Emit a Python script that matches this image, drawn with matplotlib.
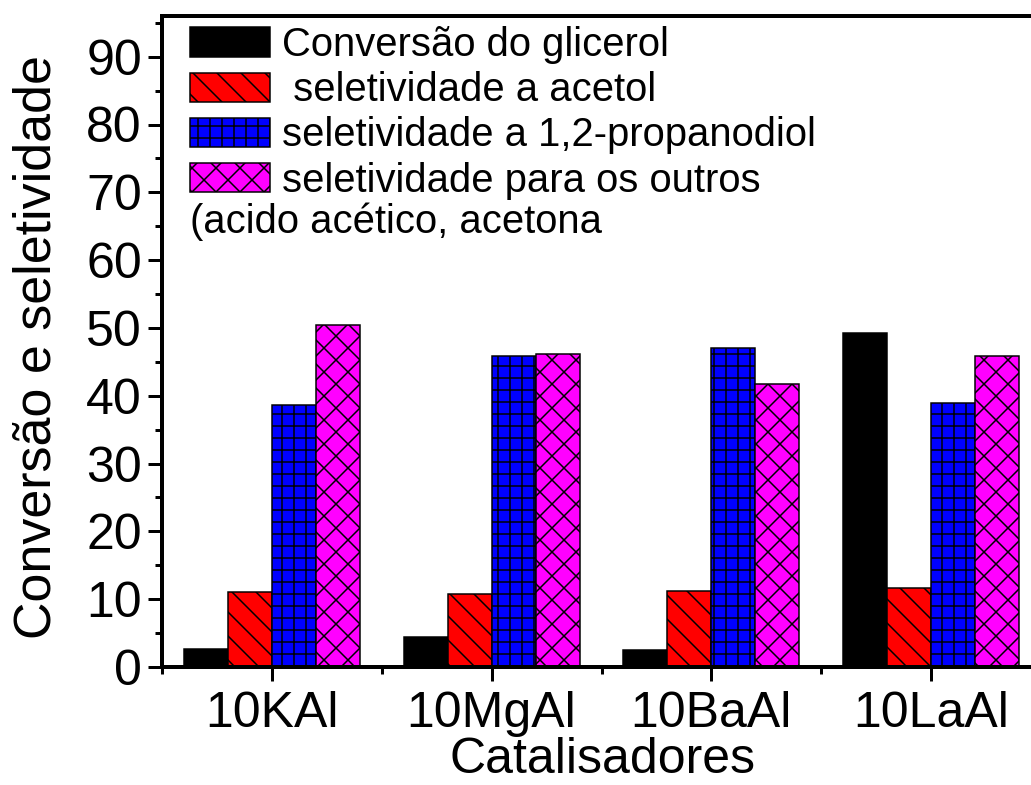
import numpy as np
import matplotlib
matplotlib.use("Agg")
import matplotlib.pyplot as plt
from matplotlib.ticker import MultipleLocator, FixedLocator

plt.rcParams['font.family'] = ['Liberation Sans', 'DejaVu Sans']
plt.rcParams['hatch.linewidth'] = 1.5

# data
catalisadores = ["10KAl", "10MgAl", "10BaAl", "10LaAl"]
conversao = [2.6, 4.4, 2.5, 49.3]
sel_acetol = [11.0, 10.8, 11.2, 11.6]
sel_propanodiol = [38.7, 45.9, 47.0, 38.9]
sel_outros = [50.4, 46.2, 41.8, 45.8]

series = [
    (conversao, "Conversão do glicerol", "black", None),
    (sel_acetol, " seletividade a acetol", "red", "\\"),
    (sel_propanodiol, "seletividade a 1,2-propanodiol", "blue", "+"),
    (sel_outros, "seletividade para os outros", "magenta", "x"),
]

W, H = 1031, 785
fig = plt.figure(figsize=(W / 72, H / 72), dpi=72)
# axes runs slightly past the right edge, like the cropped original
ax = fig.add_axes([162 / W, 1 - 667 / H, 879 / W, 651 / H])

x = np.arange(1, len(catalisadores) + 1)
bw = 0.2
for i, (vals, lab, col, hatch) in enumerate(series):
    ax.bar(x + (i - 1.5) * bw, vals, bw, color=col, edgecolor="black",
           linewidth=1.5, hatch=hatch, label=lab)

ax.set_xlim(0.5, 4.5)
ax.set_ylim(0, 96)
ax.set_xticks(x)
ax.set_xticklabels(catalisadores)
ax.xaxis.set_minor_locator(FixedLocator([0.5, 1.5, 2.5, 3.5]))
ax.set_yticks(np.arange(0, 91, 10))
ax.yaxis.set_minor_locator(MultipleLocator(5))

for s in ax.spines.values():
    s.set_linewidth(4)
ax.tick_params(which="major", direction="out", length=14, width=3,
               labelsize=50, pad=6)
ax.tick_params(axis="x", which="major", pad=10)
ax.tick_params(which="minor", direction="out", length=7, width=3)

fig.text(37 / W, 1 - 347 / H, "Conversão e seletividade", rotation=90,
         ha="center", va="center", fontsize=52)
fig.text(602 / W, 1 - 773 / H, "Catalisadores", ha="center",
         va="baseline", fontsize=50)

ax.legend(loc="upper left", bbox_to_anchor=(190 / W, 1 - 26 / H),
          bbox_transform=fig.transFigure, frameon=False, fontsize=40,
          borderpad=0, borderaxespad=0, handlelength=2.0,
          handleheight=0.75, handletextpad=0.3, labelspacing=0.18)
fig.text(190 / W, 1 - 222 / H, "(acido acético, acetona", ha="left",
         va="center", fontsize=40)

fig.savefig("out.png", dpi=72)
